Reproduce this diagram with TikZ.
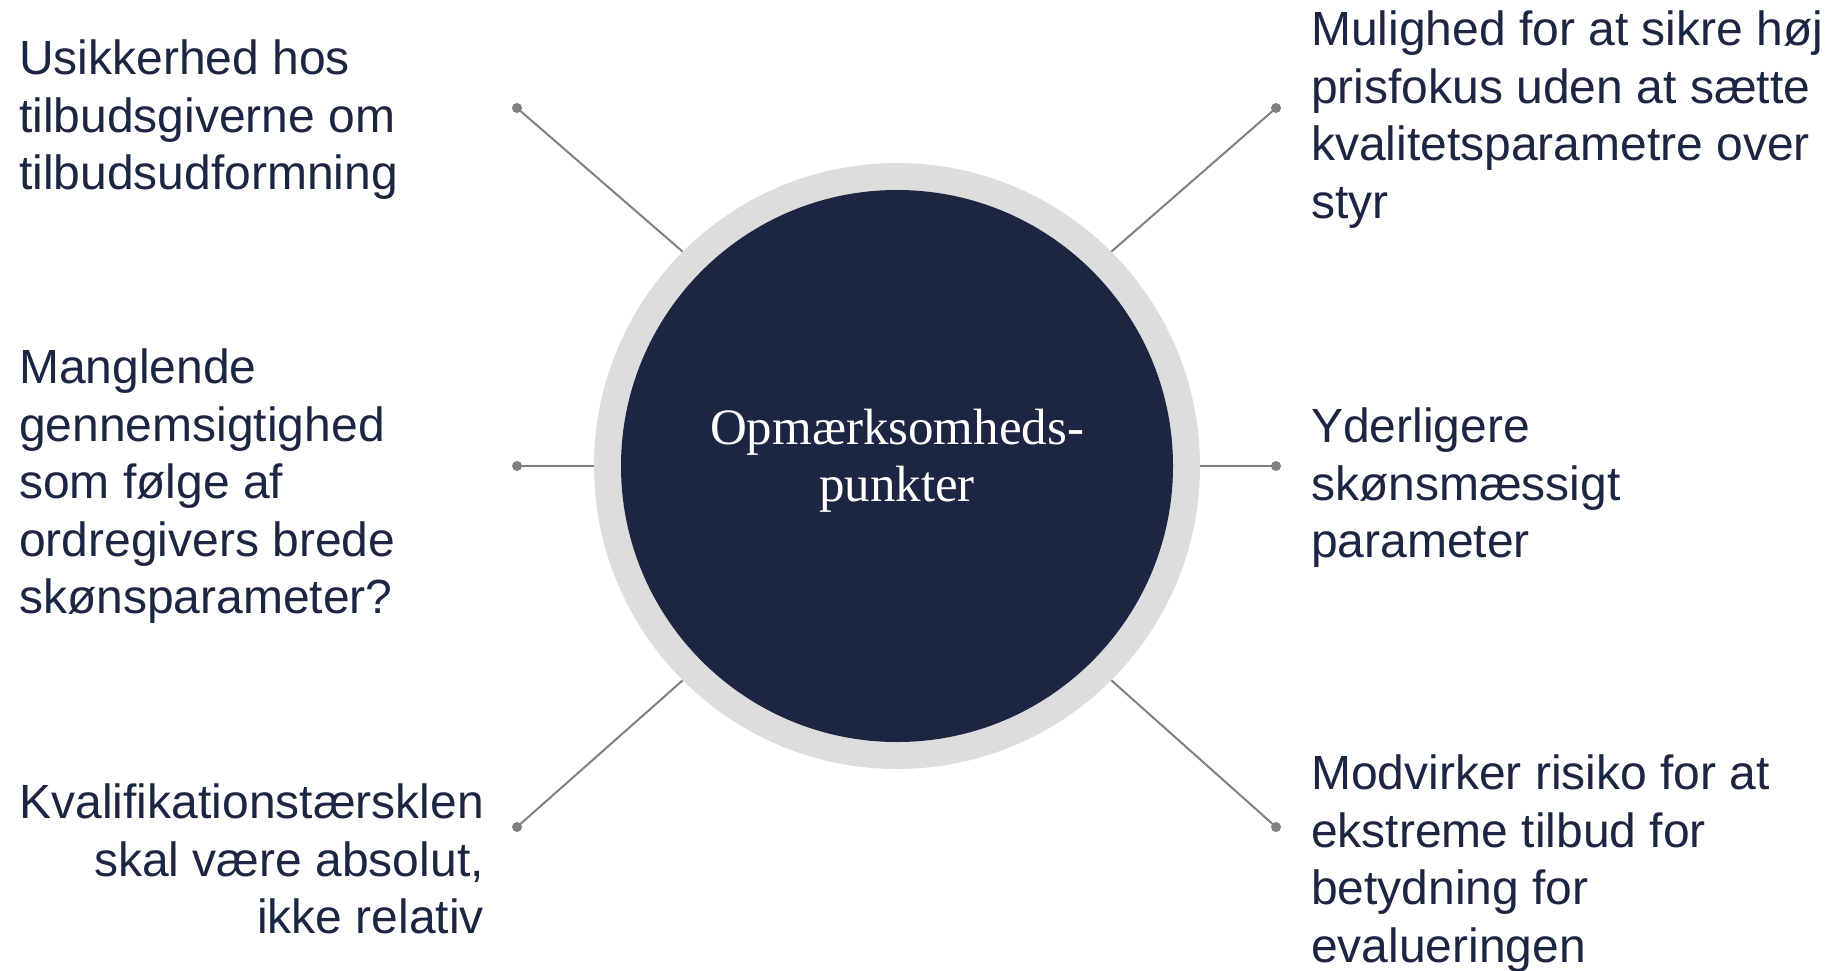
\documentclass[tikz,border=0pt]{standalone}
\usepackage{fontspec}
\setmainfont{Liberation Sans}
\newfontfamily\circfont{Liberation Serif}
\definecolor{navy}{HTML}{1C2541}
\definecolor{ringgray}{HTML}{DDDDDD}
\definecolor{linegray}{HTML}{808080}
\tikzset{
  lbl/.style={inner sep=0pt, text=navy, font=\fontsize{48}{57.5}\selectfont},
  dotnode/.style={circle, fill=linegray, inner sep=0pt, minimum size=10pt},
  conn/.style={draw=linegray, line width=2pt},
}
\begin{document}
\begin{tikzpicture}[x=1pt,y=-1pt]
\useasboundingbox (0,0) rectangle (1834,970);
% central circle
\node[circle, fill=ringgray, inner sep=0pt, minimum size=606pt] (ring) at (897,466) {};
\node[circle, fill=navy, inner sep=0pt, minimum size=552pt] (core) at (897,466) {};
\node[text=white, align=center, inner sep=0pt,
      font=\circfont\fontsize{51}{57}\selectfont] (ctext) at (897,461) {Opmærksomheds-\\punkter};
% dots
\node[dotnode] (d1) at (517,108) {};
\node[dotnode] (d2) at (1276,108) {};
\node[dotnode] (d3) at (517,466) {};
\node[dotnode] (d4) at (1276,466) {};
\node[dotnode] (d5) at (517,827) {};
\node[dotnode] (d6) at (1276,827) {};
% connectors
\draw[conn] (ring.135) -- (d1.center);
\draw[conn] (ring.45) -- (d2.center);
\draw[conn] (ring.180) -- (d3.center);
\draw[conn] (ring.0) -- (d4.center);
\draw[conn] (ring.225) -- (d5.center);
\draw[conn] (ring.315) -- (d6.center);
% labels
\node[lbl, anchor=north west, align=left] (t1) at (19,40) {Usikkerhed hos\\tilbudsgiverne om\\tilbudsudformning};
\node[lbl, anchor=north west, align=left] (t2) at (1311,11) {Mulighed for at sikre høj\\prisfokus uden at sætte\\kvalitetsparametre over\\styr};
\node[lbl, anchor=north west, align=left] (t3) at (19,349) {Manglende\\gennemsigtighed\\som følge af\\ordregivers brede\\skønsparameter?};
\node[lbl, anchor=north west, align=left] (t4) at (1311,408) {Yderligere\\skønsmæssigt\\parameter};
\node[lbl, anchor=north east, align=right] (t5) at (484,784) {Kvalifikationstærsklen\\skal være absolut,\\ikke relativ};
\node[lbl, anchor=north west, align=left] (t6) at (1311,755) {Modvirker risiko for at\\ekstreme tilbud for\\betydning for\\evalueringen};
\end{tikzpicture}
\end{document}
